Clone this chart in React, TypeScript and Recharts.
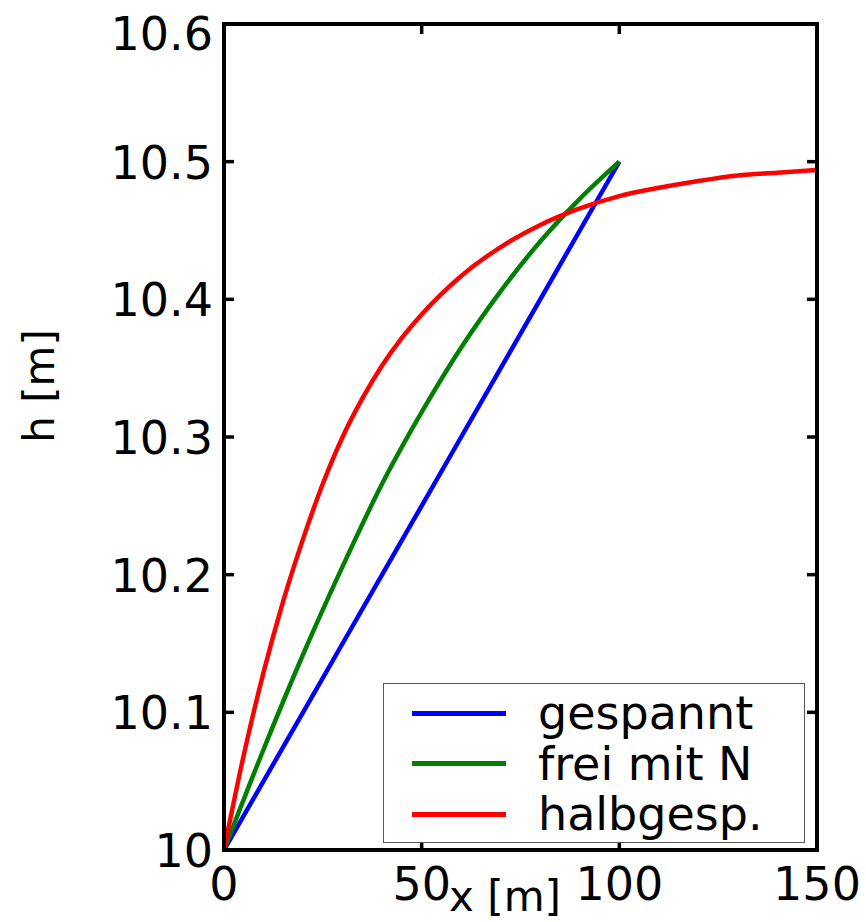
import React from 'react'
import { LineChart, Line, XAxis, YAxis, Legend } from 'recharts'

// x positions [m] and heads h [m]
const xGespannt = [0, 10, 20, 30, 40, 50, 60, 70, 80, 90, 100]
const hGespannt = [10, 10.05, 10.1, 10.15, 10.2, 10.25, 10.3, 10.35, 10.4, 10.45, 10.5]

const xFrei = [0, 10, 20, 30, 40, 50, 60, 70, 80, 90, 100]
const hFrei = [10, 10.073, 10.142, 10.206, 10.266, 10.318, 10.365, 10.406, 10.442, 10.473, 10.5]

const xHalb = [0, 5, 10, 15, 20, 25, 30, 35, 40, 45, 50, 60, 70, 80, 90, 100, 110, 120, 130, 140, 150]
const hHalb = [10, 10.069, 10.129, 10.181, 10.226, 10.266, 10.3, 10.328, 10.352, 10.372, 10.389, 10.417, 10.438, 10.454, 10.466, 10.475, 10.481, 10.486, 10.49, 10.492, 10.494]

const seriesNames = ['gespannt', 'frei mit N', 'halbgesp.']

const xTicks = [0, 50, 100, 150]
const yTicks = [10, 10.1, 10.2, 10.3, 10.4, 10.5, 10.6]

const toRows = (xs: number[], hs: number[]) => xs.map((x, i) => ({ x, h: hs[i] }))

const FONT = '"DejaVu Sans", Arial, sans-serif'
const TICK_LEN = 10

const fmtY = (v: number) => (v === 10 ? '10' : v.toFixed(1))

// bottom axis: inward tick + label below
const BottomTick = ({ x, y, payload }: any) => (
    <g>
        <line x1={x} y1={y} x2={x} y2={y - TICK_LEN} stroke="#000" strokeWidth={3.5} />
        <text x={x} y={y + 50} textAnchor="middle" fontSize={46} fontFamily={FONT} fill="#000">
            {payload.value}
        </text>
    </g>
)

const LeftTick = ({ x, y, payload }: any) => {
    // top label sits a little lower, like the original
    const dy = payload.value === 10.6 ? 26 : 17
    return (
        <g>
            <line x1={x} y1={y} x2={x + TICK_LEN} y2={y} stroke="#000" strokeWidth={3.5} />
            <text x={x - 11} y={y + dy} textAnchor="end" fontSize={46} fontFamily={FONT} fill="#000">
                {fmtY(payload.value)}
            </text>
        </g>
    )
}

const TopTick = ({ x, y }: any) => (
    <line x1={x} y1={y} x2={x} y2={y + TICK_LEN} stroke="#000" strokeWidth={3.5} />
)

const RightTick = ({ x, y }: any) => (
    <line x1={x} y1={y} x2={x - TICK_LEN} y2={y} stroke="#000" strokeWidth={3.5} />
)

const XTitle = () => (
    <text x={505} y={911} textAnchor="middle" fontSize={42} fontFamily={FONT} fill="#000">
        x [m]
    </text>
)

const YTitle = () => (
    <text x={54} y={386} transform="rotate(-90 54 386)" textAnchor="middle" fontSize={42} fontFamily={FONT} fill="#000">
        h [m]
    </text>
)

const LegendBox = ({ payload }: any) => {
    const items = [...(payload || [])].sort(
        (a: any, b: any) => seriesNames.indexOf(a.value) - seriesNames.indexOf(b.value)
    )
    return (
        <div
            style={{
                width: 422,
                height: 160,
                boxSizing: 'border-box',
                border: '1px solid #555',
                background: '#fff',
                paddingTop: 4,
            }}
        >
            {items.map((p: any) => (
                <div key={p.value} style={{ height: 50.5, display: 'flex', alignItems: 'center' }}>
                    <div style={{ marginLeft: 28, width: 94, height: 5, background: p.color }} />
                    <span
                        style={{
                            marginLeft: 32,
                            fontFamily: FONT,
                            fontSize: 46,
                            lineHeight: '50px',
                            color: '#000',
                        }}
                    >
                        {p.value}
                    </span>
                </div>
            ))}
        </div>
    )
}

const axisLine = { stroke: '#000', strokeWidth: 4, strokeLinecap: 'square' as const }

export default function App() {
    return (
        <div style={{ position: 'absolute', left: 0, top: 0, width: 866, height: 922, background: '#fff' }}>
            <LineChart width={866} height={922} margin={{ top: 23, right: 48, bottom: 0, left: 0 }}>
                <XAxis
                    type="number"
                    dataKey="x"
                    domain={[0, 150]}
                    ticks={xTicks}
                    allowDataOverflow
                    height={72}
                    axisLine={axisLine}
                    tickLine={false}
                    tickSize={0}
                    tickMargin={0}
                    tick={<BottomTick />}
                    interval={0}
                    label={<XTitle />}
                />
                <XAxis
                    xAxisId="top"
                    orientation="top"
                    type="number"
                    dataKey="x"
                    domain={[0, 150]}
                    ticks={xTicks}
                    allowDataOverflow
                    height={1}
                    axisLine={axisLine}
                    tickLine={false}
                    tickSize={0}
                    tickMargin={0}
                    tick={<TopTick />}
                    interval={0}
                />
                <YAxis
                    type="number"
                    domain={[10, 10.6]}
                    ticks={yTicks}
                    allowDataOverflow
                    width={224}
                    axisLine={axisLine}
                    tickLine={false}
                    tickSize={0}
                    tickMargin={0}
                    tick={<LeftTick />}
                    interval={0}
                    label={<YTitle />}
                />
                <YAxis
                    yAxisId="right"
                    orientation="right"
                    type="number"
                    domain={[10, 10.6]}
                    ticks={yTicks}
                    allowDataOverflow
                    width={1}
                    axisLine={axisLine}
                    tickLine={false}
                    tickSize={0}
                    tickMargin={0}
                    tick={<RightTick />}
                    interval={0}
                />
                <Legend
                    verticalAlign="middle"
                    layout="horizontal"
                    content={<LegendBox />}
                    wrapperStyle={{ left: 383, top: 683, width: 422, height: 160, margin: 0, padding: 0 }}
                />
                <Line
                    name="gespannt"
                    data={toRows(xGespannt, hGespannt)}
                    dataKey="h"
                    type="linear"
                    stroke="#0000ff"
                    strokeWidth={4.5}
                    dot={false}
                    isAnimationActive={false}
                />
                <Line
                    name="frei mit N"
                    data={toRows(xFrei, hFrei)}
                    dataKey="h"
                    type="monotone"
                    stroke="#008000"
                    strokeWidth={4.5}
                    dot={false}
                    isAnimationActive={false}
                />
                <Line
                    name="halbgesp."
                    data={toRows(xHalb, hHalb)}
                    dataKey="h"
                    type="monotone"
                    stroke="#ff0000"
                    strokeWidth={4.5}
                    dot={false}
                    isAnimationActive={false}
                />
            </LineChart>
        </div>
    )
}
